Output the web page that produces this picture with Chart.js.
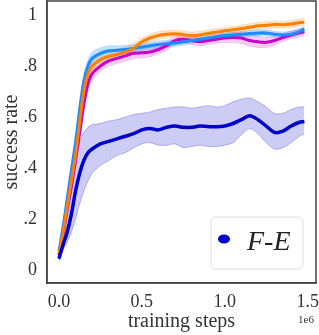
<!DOCTYPE html>
<html>
<head>
<meta charset="utf-8">
<script src="https://cdn.jsdelivr.net/npm/chart.js@4.4.1/dist/chart.umd.min.js"></script>
<style>
  html, body { margin: 0; padding: 0; background: #fff; }
  #wrap { width: 319px; height: 335px; }
</style>
</head>
<body>
<div id="wrap"><canvas id="chart" width="319" height="335"></canvas></div>
<script>
// training steps (x 1e6)
var steps = [0, 0.025, 0.05, 0.075, 0.1, 0.125, 0.15, 0.175, 0.2, 0.25, 0.3, 0.35, 0.4, 0.45, 0.5, 0.55, 0.6, 0.65, 0.7, 0.75,
  0.8, 0.85, 0.9, 0.95, 1.0, 1.05, 1.1, 1.15, 1.2, 1.25, 1.3, 1.35, 1.4, 1.45, 1.48];

var orange = [0.065, 0.15, 0.25, 0.35, 0.45, 0.58, 0.70, 0.77, 0.80, 0.825, 0.838, 0.845, 0.855, 0.87, 0.895, 0.91, 0.92, 0.925, 0.927, 0.923,
  0.92, 0.922, 0.928, 0.933, 0.938, 0.942, 0.947, 0.952, 0.958, 0.96, 0.963, 0.962, 0.965, 0.97, 0.972];
var blue = [0.075, 0.17, 0.28, 0.39, 0.50, 0.63, 0.74, 0.80, 0.83, 0.85, 0.86, 0.862, 0.865, 0.87, 0.875, 0.88, 0.885, 0.887, 0.89, 0.895,
  0.90, 0.905, 0.91, 0.915, 0.92, 0.922, 0.925, 0.928, 0.93, 0.93, 0.925, 0.922, 0.925, 0.935, 0.945];
var magenta = [0.06, 0.14, 0.24, 0.33, 0.43, 0.54, 0.65, 0.73, 0.77, 0.80, 0.82, 0.83, 0.84, 0.85, 0.852, 0.855, 0.865, 0.88, 0.90, 0.905,
  0.90, 0.895, 0.90, 0.905, 0.91, 0.912, 0.91, 0.90, 0.895, 0.893, 0.90, 0.912, 0.922, 0.93, 0.935];
var cyan = [0.07, 0.16, 0.27, 0.38, 0.49, 0.62, 0.73, 0.79, 0.825, 0.845, 0.855, 0.86, 0.862, 0.866, 0.87, 0.876, 0.882, 0.886, 0.89, 0.893,
  0.897, 0.9, 0.905, 0.91, 0.913, 0.917, 0.92, 0.922, 0.924, 0.925, 0.922, 0.92, 0.922, 0.928, 0.932];
var fe = [0.045, 0.10, 0.15, 0.22, 0.31, 0.38, 0.43, 0.46, 0.475, 0.495, 0.505, 0.515, 0.525, 0.535, 0.55, 0.555, 0.55, 0.56, 0.565, 0.56,
  0.56, 0.565, 0.563, 0.562, 0.565, 0.575, 0.59, 0.605, 0.59, 0.565, 0.54, 0.545, 0.565, 0.58, 0.583];
var feHigh = [0.06, 0.13, 0.2, 0.3, 0.42, 0.5, 0.54, 0.56, 0.57, 0.575, 0.585, 0.59, 0.6, 0.61, 0.615, 0.62, 0.63, 0.635, 0.64, 0.64,
  0.635, 0.64, 0.645, 0.64, 0.645, 0.66, 0.67, 0.675, 0.66, 0.64, 0.615, 0.615, 0.63, 0.64, 0.64];
var feLow = [0.035, 0.08, 0.11, 0.15, 0.2, 0.26, 0.31, 0.35, 0.38, 0.41, 0.43, 0.45, 0.46, 0.48, 0.495, 0.5, 0.49, 0.49, 0.495, 0.48,
  0.485, 0.49, 0.485, 0.485, 0.49, 0.5, 0.53, 0.555, 0.535, 0.5, 0.475, 0.48, 0.5, 0.525, 0.535];

// half widths of the shaded bands round the upper curves
var blueSpread = [0.01, 0.02, 0.03, 0.03, 0.03, 0.03, 0.03, 0.025, 0.025, 0.022, 0.02, 0.018, 0.016, 0.015, 0.015, 0.014, 0.014, 0.013, 0.013, 0.013,
  0.012, 0.012, 0.012, 0.012, 0.012, 0.012, 0.012, 0.012, 0.012, 0.012, 0.012, 0.012, 0.012, 0.012, 0.012];
var orangeSpread = [0.01, 0.015, 0.02, 0.02, 0.02, 0.02, 0.02, 0.02, 0.02, 0.02, 0.022, 0.022, 0.02, 0.018, 0.016, 0.015, 0.015, 0.014, 0.014, 0.014,
  0.014, 0.014, 0.014, 0.014, 0.014, 0.014, 0.014, 0.014, 0.014, 0.014, 0.014, 0.014, 0.014, 0.014, 0.014];
var magentaSpread = [0.01, 0.02, 0.025, 0.03, 0.03, 0.03, 0.03, 0.03, 0.025, 0.022, 0.02, 0.02, 0.02, 0.02, 0.02, 0.018, 0.018, 0.018, 0.016, 0.016,
  0.016, 0.016, 0.016, 0.016, 0.018, 0.02, 0.022, 0.022, 0.022, 0.02, 0.018, 0.016, 0.015, 0.015, 0.015];

var xTicks = [0, 0.5, 1.0, 1.5];
var xTickLabels = ["0.0", "0.5", "1.0", "1.5"];
var yTicks = [0, 0.2, 0.4, 0.6, 0.8, 1.0];
var yTickLabels = ["0", ".2", ".4", ".6", ".8", "1"];

var serif = "'Liberation Serif', 'DejaVu Serif', serif";

function pts(arr) {
  return steps.map(function (s, i) { return { x: s, y: arr[i] }; });
}
function shifted(arr, spread, sign) {
  return steps.map(function (s, i) { return { x: s, y: arr[i] + sign * spread[i] }; });
}

function line(label, arr, color, width) {
  return { label: label, data: pts(arr), borderColor: color, borderWidth: width, pointRadius: 0, fill: false, tension: 0.3, order: 0 };
}

var datasets = [
  line("F-E", fe, "#0000cc", 3.5),
  line("orange", orange, "#ff7f00", 3),
  line("blue", blue, "#1e8cff", 3),
  line("magenta", magenta, "#c800c8", 3),
  line("cyan", cyan, "rgba(80,200,210,0.8)", 1.5)
];

function band(upper, lower, fillColor, edgeColor) {
  var i = datasets.length;
  datasets.push({ label: "_hi", data: upper, borderColor: edgeColor, borderWidth: 1, pointRadius: 0, tension: 0.3,
    backgroundColor: fillColor, fill: { target: i + 1 }, order: 1 });
  datasets.push({ label: "_lo", data: lower, borderColor: edgeColor, borderWidth: 1, pointRadius: 0, tension: 0.3,
    fill: false, order: 1 });
}

band(pts(feHigh), pts(feLow), "rgba(0,0,204,0.2)", "rgba(0,0,204,0.25)");
band(shifted(orange, orangeSpread, 1), shifted(orange, orangeSpread, -1), "rgba(255,127,0,0.22)", "rgba(255,127,0,0.15)");
band(shifted(blue, blueSpread, 1), shifted(blue, blueSpread, -1), "rgba(30,140,255,0.28)", "rgba(30,140,255,0.15)");
band(shifted(magenta, magentaSpread, 1), shifted(magenta, magentaSpread, -1), "rgba(200,0,200,0.2)", "rgba(200,0,200,0.15)");

var extras = {
  id: "extras",
  afterDraw: function (chart) {
    var ctx = chart.ctx;
    var a = chart.chartArea;
    ctx.save();
    // frame
    ctx.strokeStyle = "#444";
    ctx.lineWidth = 1.5;
    ctx.strokeRect(a.left, a.top, a.right - a.left, a.bottom - a.top);
    // offset text
    ctx.fillStyle = "#333";
    ctx.font = "11px " + serif;
    ctx.textAlign = "center";
    ctx.textBaseline = "middle";
    ctx.fillText("1e6", 306, 320);
    // legend
    var lx = 211, ly = 217, lw = 92, lh = 52, r = 5;
    ctx.beginPath();
    ctx.moveTo(lx + r, ly);
    ctx.arcTo(lx + lw, ly, lx + lw, ly + lh, r);
    ctx.arcTo(lx + lw, ly + lh, lx, ly + lh, r);
    ctx.arcTo(lx, ly + lh, lx, ly, r);
    ctx.arcTo(lx, ly, lx + lw, ly, r);
    ctx.closePath();
    ctx.fillStyle = "rgba(255,255,255,0.85)";
    ctx.fill();
    ctx.strokeStyle = "#dcdcdc";
    ctx.lineWidth = 1;
    ctx.stroke();
    ctx.beginPath();
    ctx.ellipse(224, 239, 6, 4.5, 0, 0, Math.PI * 2);
    ctx.fillStyle = datasets[0].borderColor;
    ctx.fill();
    ctx.fillStyle = "#222";
    ctx.font = "italic 28px " + serif;
    ctx.textAlign = "left";
    ctx.textBaseline = "alphabetic";
    ctx.fillText("F-E", 247, 250);
    ctx.restore();
  }
};

new Chart(document.getElementById("chart").getContext("2d"), {
  type: "line",
  data: { datasets: datasets },
  plugins: [extras],
  options: {
    responsive: false,
    animation: false,
    layout: { padding: { top: 1, right: 3, left: 0, bottom: 0 } },
    plugins: { legend: { display: false }, tooltip: { enabled: false } },
    scales: {
      x: {
        type: "linear",
        min: -0.072,
        max: 1.55,
        grid: { display: false, drawTicks: false },
        border: { display: true, color: "#444", width: 1.5 },
        afterBuildTicks: function (scale) { scale.ticks = xTicks.map(function (v) { return { value: v }; }); },
        afterFit: function (scale) { scale.height = 52; scale.paddingLeft = 0; scale.paddingRight = 0; },
        ticks: {
          color: "#333",
          font: { family: serif, size: 18 },
          padding: 8,
          maxRotation: 0,
          callback: function (v) { return xTickLabels[xTicks.indexOf(v)]; }
        },
        title: { display: true, text: "training steps", color: "#333", font: { family: serif, size: 20 }, padding: { top: 0, bottom: 1 } }
      },
      y: {
        min: -0.05,
        max: 1.055,
        grid: { display: false, drawTicks: false },
        border: { display: true, color: "#444", width: 1.5 },
        afterBuildTicks: function (scale) { scale.ticks = yTicks.map(function (v) { return { value: v }; }); },
        afterFit: function (scale) { scale.width = 47; scale.paddingTop = 0; scale.paddingBottom = 0; },
        ticks: {
          color: "#333",
          font: { family: serif, size: 18 },
          padding: 10,
          callback: function (v) { return yTickLabels[yTicks.indexOf(v)]; }
        },
        title: { display: true, text: "success rate", color: "#333", font: { family: serif, size: 20 }, padding: { top: 0, bottom: 0 } }
      }
    }
  }
});
</script>
</body>
</html>
